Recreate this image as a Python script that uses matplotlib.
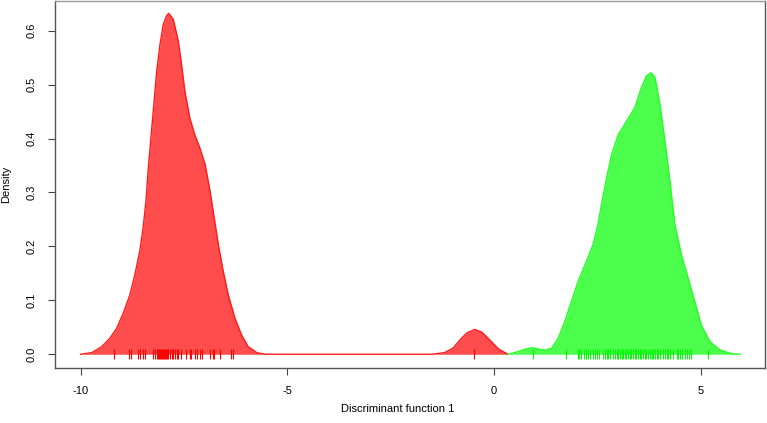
import matplotlib
matplotlib.use("Agg")
import matplotlib.pyplot as plt

# density curve of group 1 (red)
red_x = [-10.0, -9.73, -9.49, -9.29, -9.13, -8.97, -8.81, -8.69, -8.57, -8.49,
         -8.42, -8.37, -8.30, -8.23, -8.16, -8.08, -8.00, -7.92, -7.87, -7.76,
         -7.64, -7.56, -7.48, -7.36, -7.24, -7.12, -6.99, -6.87, -6.77, -6.67,
         -6.55, -6.43, -6.27, -6.11, -5.95, -5.74, -5.54,
         -1.5, -1.2, -1.0, -0.8, -0.65, -0.47, -0.3, -0.1, 0.1, 0.33]
red_y = [0.0, 0.003, 0.014, 0.030, 0.048, 0.076, 0.110, 0.147, 0.191, 0.234,
         0.284, 0.339, 0.401, 0.463, 0.525, 0.575, 0.612, 0.628, 0.632, 0.621,
         0.581, 0.537, 0.488, 0.438, 0.407, 0.383, 0.352, 0.302, 0.253, 0.203,
         0.153, 0.110, 0.067, 0.036, 0.014, 0.003, 0.0,
         0.0, 0.003, 0.011, 0.029, 0.040, 0.046, 0.041, 0.026, 0.010, 0.0]

# density curve of group 2 (green)
green_x = [0.33, 0.45, 0.62, 0.78, 0.94, 1.10, 1.25, 1.39, 1.55, 1.71, 1.87,
           2.03, 2.23, 2.39, 2.51, 2.61, 2.72, 2.84, 3.00, 3.20, 3.40, 3.56,
           3.68, 3.79, 3.89, 4.01, 4.13, 4.25, 4.37, 4.53, 4.69, 4.85, 5.01,
           5.22, 5.46, 5.74, 5.95]
green_y = [0.0, 0.002, 0.006, 0.010, 0.012, 0.009, 0.008, 0.011, 0.030, 0.061,
           0.098, 0.135, 0.172, 0.203, 0.240, 0.284, 0.327, 0.370, 0.407, 0.432,
           0.457, 0.494, 0.516, 0.522, 0.513, 0.463, 0.395, 0.321, 0.240, 0.184,
           0.141, 0.098, 0.054, 0.023, 0.008, 0.001, 0.0]

# observed scores (rug)
red_rug = [-9.19, -8.82, -8.78, -8.62, -8.57, -8.50, -8.44, -8.24, -8.20, -8.16,
           -8.14, -8.11, -8.08, -8.06, -8.03, -8.01, -7.99, -7.96, -7.94, -7.91,
           -7.88, -7.85, -7.80, -7.76, -7.72, -7.68, -7.64, -7.58, -7.44, -7.36,
           -7.32, -7.24, -7.18, -7.12, -7.07, -6.87, -6.81, -6.77, -6.63, -6.37,
           -6.31, -0.48]
green_rug = [0.93, 1.74, 2.02, 2.06, 2.11, 2.17, 2.22, 2.27, 2.33, 2.38, 2.43,
             2.49, 2.54, 2.64, 2.68, 2.72, 2.76, 2.81, 2.88, 2.92, 2.96, 3.00,
             3.04, 3.08, 3.12, 3.16, 3.20, 3.24, 3.28, 3.32, 3.36, 3.40, 3.44,
             3.48, 3.52, 3.56, 3.60, 3.64, 3.68, 3.72, 3.76, 3.81, 3.84, 3.89,
             3.93, 3.97, 4.01, 4.09, 4.13, 4.17, 4.21, 4.26, 4.33, 4.41, 4.45,
             4.49, 4.55, 4.61, 4.67, 4.71, 4.77, 5.17]

x_ticks = [-10, -5, 0, 5]
y_ticks = [0.0, 0.1, 0.2, 0.3, 0.4, 0.5, 0.6]

plt.rcParams['font.family'] = ['Liberation Sans', 'DejaVu Sans']

W, H = 767, 423
fig = plt.figure(figsize=(W / 100, H / 100), dpi=100)
ax = fig.add_axes([55 / W, (H - 368) / H, 710 / W, 367 / H])

ax.fill_between(red_x, red_y, color=(1, 0, 0, 0.7), linewidth=0)
ax.plot(red_x, red_y, color='#ff1a1a', linewidth=1)
ax.fill_between(green_x, green_y, color=(0, 1, 0, 0.7), linewidth=0)
ax.plot(green_x, green_y, color='#22ff22', linewidth=1)

ax.plot(red_rug, [0] * len(red_rug), linestyle='none', marker='|',
        markersize=7.5, markeredgewidth=0.8, color='#ff0000')
ax.plot(green_rug, [0] * len(green_rug), linestyle='none', marker='|',
        markersize=7.5, markeredgewidth=0.8, color='#00ff00')

ax.set_xlim(-10.62, 6.55)
ax.set_ylim(-0.0255, 0.655)
ax.set_xticks(x_ticks)
ax.set_xticklabels([str(t) for t in x_ticks])
ax.set_yticks(y_ticks)
ax.set_yticklabels(['%.1f' % t for t in y_ticks], rotation=90, va='center')
ax.tick_params(length=5, width=0.8, color='#444444', labelsize=8, pad=8)

for side in ax.spines:
    ax.spines[side].set_color('#555555')
    ax.spines[side].set_linewidth(1)
ax.spines['top'].set_color('#999999')

fig.text(398 / W, 1 - 409 / H, 'Discriminant function 1', ha='center',
         va='center', fontsize=8)
fig.text(6 / W, 1 - 184 / H, 'Density', ha='center', va='center',
         rotation=90, fontsize=8)

fig.savefig('out.png', dpi=100)
